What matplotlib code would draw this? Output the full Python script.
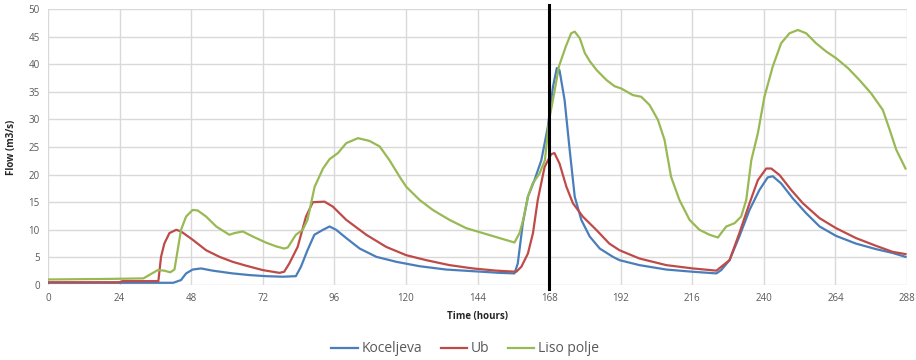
import matplotlib
matplotlib.use("Agg")
import matplotlib.pyplot as plt

# ---- data ----
koc_h = [0, 20, 42, 44.6, 46.3, 48.5, 51.3, 55.2, 61.9, 67.5, 73.1, 78.7, 83.1, 84.8, 87, 89.3, 92.2, 94.4,
         96.6, 100, 104.5, 110.1, 116.8, 124.6, 133.5, 142.5, 151.4, 156.4, 157.5, 159.2, 160.9, 163.1,
         165.4, 167.6, 169.3, 170.6, 171.5, 173.2, 174.9, 176.6, 178.8, 181.6, 185, 189.4, 191.6, 198.3,
         207.3, 216.2, 224.1, 225.7, 228.5, 231.8, 235.2, 238.5, 241.3, 243, 245.8, 249.7, 254.2, 258.7,
         264.2, 270.9, 277.6, 283.2, 287.5]
koc_v = [0.4, 0.4, 0.4, 0.9, 2.1, 2.8, 3.0, 2.6, 2.1, 1.8, 1.6, 1.5, 1.6, 3.3, 6.3, 9.1, 10.0, 10.6,
         10.0, 8.5, 6.6, 5.1, 4.2, 3.4, 2.8, 2.5, 2.2, 2.1, 3.9, 11.2, 16.0, 19.0,
         22.6, 28.7, 35.9, 39.3, 38.9, 33.5, 24.5, 16.0, 11.8, 8.8, 6.6, 5.1, 4.5, 3.6,
         2.8, 2.4, 2.1, 2.7, 4.5, 8.8, 13.6, 17.2, 19.5, 19.7, 18.4, 15.7, 13.0, 10.6,
         8.9, 7.5, 6.5, 5.8, 5.1]

ub_h = [0, 24, 25, 37, 37.9, 39, 40.7, 43, 44.6, 48.5, 53, 57.5, 61.9, 66.4, 72, 77.6, 79.2, 80.9, 83.7,
        86.5, 88.8, 92.7, 95.5, 100, 106.7, 113.4, 120.1, 126.8, 134.6, 142.5, 150.3, 157, 158.7, 160.9,
        162.6, 164.2, 166.5, 168.7, 169.8, 171.5, 173.8, 176, 179.3, 183.8, 188.2, 191.6, 198.3, 207.3,
        216.2, 224.1, 228.5, 231.8, 235.2, 238, 240.8, 242.5, 245.3, 249.2, 253.1, 258.7, 264.2, 270.9,
        277.6, 283.2, 287.5]
ub_v = [0.5, 0.5, 0.7, 0.7, 5.1, 7.5, 9.4, 10.0, 9.7, 8.2, 6.3, 5.1, 4.2, 3.5, 2.7, 2.2, 2.4, 3.9, 6.9,
        12.4, 15.0, 15.1, 14.2, 11.8, 9.1, 6.9, 5.4, 4.5, 3.6, 3.0, 2.6, 2.4, 3.3, 5.7,
        9.4, 15.4, 21.4, 23.7, 23.9, 22.0, 17.8, 14.8, 12.4, 10.0, 7.5, 6.3, 4.8, 3.6,
        3.0, 2.6, 4.5, 9.4, 14.8, 19.0, 21.1, 21.1, 19.9, 17.2, 14.8, 12.1, 10.3, 8.5,
        7.1, 6.0, 5.6]

liso_h = [0, 20, 32, 36.8, 39, 41, 42.4, 44.6, 46.3, 48.5, 50.2, 53, 56.4, 60.8, 62.5, 65.3, 68.6, 73,
          76.5, 79.2, 80.4, 83.1, 85.4, 87, 89.4, 92.2, 94.4, 97.2, 100, 103.9, 107.8, 111.2, 114.5,
          117.9, 120.1, 124.6, 129, 134.6, 140.2, 145.8, 151.4, 156.4, 158.1, 159.3, 160.9, 162.5,
          164.8, 166.6, 168, 169.7, 171.3, 173.6, 175.4, 176.6, 178.3, 180, 181.7, 184, 187.3, 190,
          192.2, 196.1, 198.9, 201.7, 204.5, 206.7, 208.9, 211.7, 215.1, 218.4, 221.8, 224.6, 225.7,
          227.4, 230.2, 232.4, 234.1, 235.8, 238, 240.2, 243, 245.8, 248.6, 251.4, 254.2, 257.5, 260.9,
          264.2, 268.2, 272.1, 276, 279.9, 282.2, 284.4, 287.5]
liso_v = [1.0, 1.1, 1.2, 2.7, 2.6, 2.3, 2.8, 10.0, 12.4, 13.6, 13.5, 12.4, 10.6, 9.1, 9.4, 9.7, 8.8, 7.7,
          7.0, 6.6, 6.8, 9.1, 10.0, 11.8, 17.8, 21.1, 22.8, 23.9, 25.7, 26.6, 26.1, 25.1, 22.6,
          19.6, 17.8, 15.4, 13.6, 11.8, 10.3, 9.4, 8.5, 7.7, 9.4, 11.8, 16.0, 18.4,
          20.2, 22.6, 29.9, 34.7, 39.6, 43.2, 45.6, 45.9, 44.7, 42.0, 40.5, 38.9, 37.1, 36.0,
          35.6, 34.4, 34.1, 32.6, 29.9, 26.3, 19.6, 15.4, 11.8, 10.0, 9.1, 8.6, 9.4,
          10.6, 11.2, 12.4, 15.4, 22.6, 27.5, 34.1, 39.6, 43.8, 45.6, 46.2, 45.6, 43.8, 42.3,
          41.1, 39.3, 37.1, 34.7, 31.7, 28.1, 24.5, 21.1]

series_names = ["Koceljeva", "Ub", "Liso polje"]
series_colors = ["#4a7ebb", "#be4b48", "#98b954"]
x_ticks = list(range(0, 289, 24))
y_ticks = list(range(0, 51, 5))
marker_hour = 168

plt.rcParams['font.family'] = ['Open Sans', 'DejaVu Sans']

fig = plt.figure(figsize=(9.16, 3.6), dpi=100)
ax = fig.add_axes([48 / 916, 1 - 285 / 360, (907 - 48) / 916, (285 - 9) / 360])

for (hh, vv), name, col in zip([(koc_h, koc_v), (ub_h, ub_v), (liso_h, liso_v)], series_names, series_colors):
    ax.plot(hh, vv, color=col, lw=1.6, label=name, solid_joinstyle='round')

ax.axvline(marker_hour, color='black', lw=2.2, ymin=-0.015, ymax=1.015, clip_on=False, zorder=5)

ax.set_xlim(0, 288)
ax.set_ylim(0, 50)
ax.set_xticks(x_ticks)
ax.set_yticks(y_ticks)
ax.grid(True, color='#d9d9d9', lw=1.0)
ax.set_axisbelow(True)
for s in ax.spines.values():
    s.set_visible(False)
ax.tick_params(length=0, labelsize=7, labelcolor='#595959', pad=6)
ax.set_xlabel("Time (hours)", fontsize=7, fontweight='bold', color='#262626', labelpad=5)
ax.set_ylabel("Flow (m3/s)", fontsize=7, fontweight='bold', color='#262626', labelpad=8)

handles, labels = ax.get_legend_handles_labels()
leg = fig.legend(handles, labels, loc='center', bbox_to_anchor=(0.508, 1 - 349 / 360), ncol=3, frameon=False,
                 fontsize=10, handlelength=1.9, handletextpad=0.3, columnspacing=1.3,
                 borderpad=0.1)
for t in leg.get_texts():
    t.set_color('#595959')

fig.savefig("out.png", dpi=100)
